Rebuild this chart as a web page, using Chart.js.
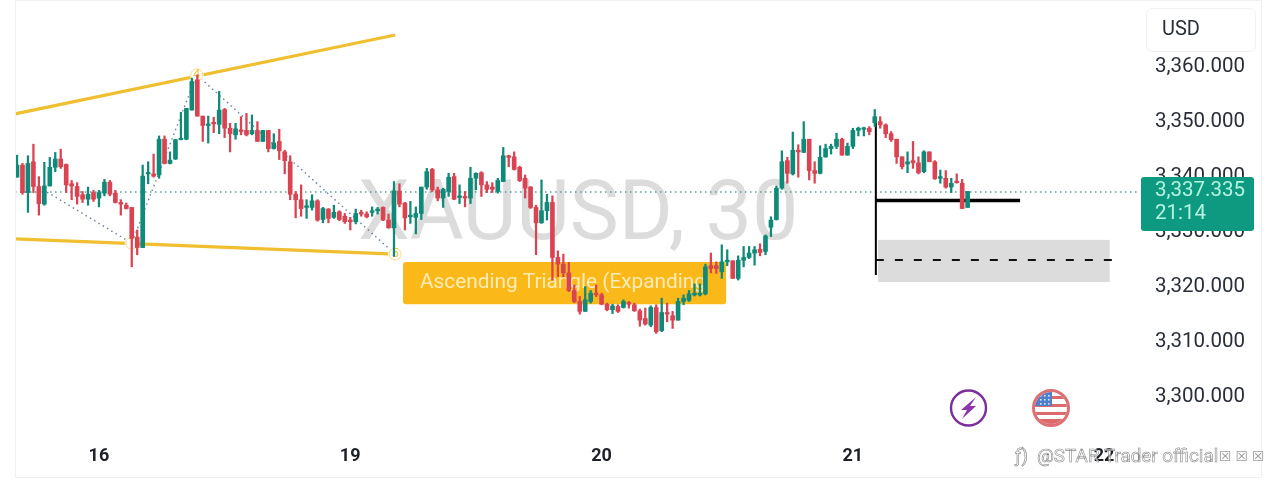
<!DOCTYPE html>
<html><head><meta charset="utf-8">
<style>html,body{margin:0;padding:0;background:#fff;overflow:hidden}canvas{display:block}</style>
<script src="https://cdn.jsdelivr.net/npm/chart.js@4"></script>
</head><body><canvas id="c" width="1280" height="489"></canvas>
<script>
const opens=[3339.6,3341.8,3336.8,3342.4,3337.9,3334.7,3338,3341.4,3342.9,3341.9,
3338.4,3337.9,3336.4,3335.6,3336.8,3335.8,3336.7,3338.7,3336.7,3335,
3334.5,3334.1,3328.7,3326.8,3340.2,3340.2,3340,3346.5,3342.1,3342.9,
3346.4,3346.5,3351.8,3357.3,3350.7,3349,3349.5,3349.2,3351.9,3348.5,
3347.3,3348.2,3348.1,3347.5,3348.1,3346.1,3348.1,3344.8,3346.1,3344.2,
3342.4,3336.5,3335.5,3334.1,3334.1,3335.3,3331.9,3333.8,3332.3,3333.3,
3332.5,3331.8,3331.5,3333.2,3332.9,3333.2,3333.5,3334.1,3331.8,3330.4,
3337.1,3334.9,3332.4,3332.3,3333,3337.8,3341,3337.3,3335.8,3337,
3339.7,3335.9,3336.1,3335.8,3339.4,3340.4,3338.2,3337.8,3337,3338.8,
3343.5,3343.3,3341.4,3339.4,3337.8,3334.1,3331.3,3333.5,3335,3325,
3323.8,3322.2,3319,3317,3315.2,3317,3318.5,3318.2,3316.5,3315.5,
3316.1,3315.9,3316.8,3316.4,3315.3,3313.9,3312.7,3315.9,3311.7,3315,
3314.4,3313.6,3317,3317.2,3318.2,3318.2,3318.4,3323.5,3323.5,3322.4,
3324.2,3324.4,3321.2,3324.5,3325,3325.8,3326.5,3326.1,3330.5,3331.9,
3337.6,3342.6,3340.2,3344.5,3344.1,3346.5,3340.8,3340.3,3343.3,3344.8,
3345.2,3346.5,3343.6,3345.2,3348.1,3348.3,3348.5,3349.5,3349.7,3349.1,
3347.5,3346.5,3343.3,3342,3342.6,3342.2,3340.6,3344.2,3342.4,3339.4,
3339.4,3337.8,3338.8,3338.5,3334.1];
const closes=[3341.8,3336.8,3342.1,3337.9,3334.8,3338,3341.4,3342.9,3341.5,3338.2,
3338,3336.1,3335.6,3336.5,3335.6,3336.8,3338.7,3336.5,3335,3334.7,
3333.9,3328.5,3326.8,3339.8,3340.4,3339.8,3346.5,3342.1,3342.7,3346.4,
3346.6,3352.1,3357,3350.7,3349,3349.2,3349.3,3351.8,3348.5,3347.5,
3348.4,3347.9,3347.3,3348.1,3346.1,3348.1,3344.8,3345.8,3344.4,3342.6,
3336.5,3335.5,3333.9,3334.4,3335.3,3331.8,3333.9,3332.1,3333.2,3331.9,
3331.5,3331.5,3333,3332.9,3332.4,3333.5,3333.8,3331.8,3330.4,3337.1,
3334.7,3332.2,3332.7,3333,3337.8,3340.6,3337.3,3335.8,3337.4,3339.6,
3335.6,3336.2,3335.8,3339.4,3340.3,3338.2,3337.4,3337.4,3339,3343.5,
3343.2,3341,3339,3337.6,3334.1,3331.3,3333.5,3335,3325,3323.8,
3322.2,3319,3317,3315.2,3317.3,3318.5,3318.2,3316.5,3315.5,3316.2,
3315.2,3317,3316.5,3315.3,3313.6,3312.9,3315.9,3311.5,3315,3314.7,
3313.6,3317,3317.6,3318.4,3318.5,3318.5,3323.3,3323,3323,3324.2,
3324.5,3321.2,3324.5,3325,3325.8,3326.4,3325.9,3328.9,3331.8,3337.6,
3342.4,3340.3,3344.5,3344.2,3346.5,3340.8,3340.3,3343.2,3344.8,3345.2,
3346.5,3343.6,3345.2,3348.1,3348.5,3348.5,3347.9,3350.6,3349.1,3347.5,
3346.4,3343.3,3341.5,3342.4,3342.2,3340.4,3344.2,3342.4,3339.3,3339.7,
3337.8,3338.5,3338.6,3333.9,3337];
const highs=[3343.6,3342.1,3343.5,3345.6,3339.7,3342.3,3343.2,3344.1,3344.7,3342,
3339,3338.6,3337,3337.8,3337.2,3337.2,3339.2,3339,3337.2,3335.5,
3334.9,3334.1,3330,3341.8,3342.4,3343.8,3347.1,3347.1,3344.2,3346.5,
3351.4,3352.1,3357.6,3358.2,3350.7,3350.7,3350.5,3355.2,3352.1,3349.4,
3349.4,3350.6,3351.2,3350.9,3349.7,3348.1,3348.1,3347.5,3348.3,3344.5,
3343.5,3337,3338.2,3335.5,3336.4,3335.5,3334.1,3333.9,3334.5,3333.5,
3333,3332.3,3333.8,3333.6,3333.3,3334.2,3334.1,3334.2,3332.9,3338.8,
3338.4,3335,3335.2,3334.2,3337.8,3341.2,3341.2,3337.8,3337.6,3340.3,
3340.3,3338.2,3337,3341.4,3340.4,3340.6,3338.8,3338.6,3339.4,3345,
3343.6,3344.2,3341.6,3340,3337.9,3334.5,3339.1,3336.5,3336.2,3326.2,
3325.6,3324.1,3320,3317.9,3319.7,3319,3320,3318.5,3316.7,3316.5,
3316.4,3317.3,3317,3316.7,3315.6,3315.8,3316.2,3316.4,3317.6,3316.7,
3315.2,3317.6,3318.2,3319,3320.2,3320.2,3323.8,3325.8,3324.2,3327.3,
3326.4,3324.4,3325.3,3327,3327,3327,3327.5,3329.1,3332.4,3338,
3344.4,3343.2,3347.8,3345.5,3349.7,3346.5,3342.4,3345.3,3345.6,3345.6,
3347.6,3346.7,3345.8,3348.5,3348.7,3348.7,3348.8,3351.9,3350.6,3349.3,
3347.9,3346.5,3343.3,3344.2,3346.1,3343.3,3344.4,3344.2,3342.6,3340.9,
3340.8,3339.4,3340.2,3339.2,3337];
const lows=[3339.6,3336.5,3333.2,3336.8,3332.7,3334.5,3338,3340.6,3341.2,3336.8,
3335.5,3334.7,3335,3334.5,3335.2,3334.2,3336.2,3336.2,3334.9,3332.7,
3333.8,3323.3,3325.5,3326.8,3338.4,3339.6,3339.4,3342,3342,3342.8,
3346.4,3346.4,3351.8,3350.7,3346.1,3345.8,3347.7,3347.5,3346.8,3344.2,
3346.5,3347.3,3347.1,3347.3,3346.1,3346.1,3344.2,3344.7,3342.8,3340.2,
3335.5,3332.2,3332.5,3332.1,3333.6,3331.6,3331.3,3331.3,3332.1,3331.7,
3331.2,3330,3331.1,3332.5,3332.2,3332.5,3332.9,3331.7,3330.3,3325.2,
3334.2,3330,3331.2,3329.3,3331.9,3337.4,3337,3335.3,3334.1,3336.1,
3335.5,3334.8,3334.2,3334.8,3337.3,3336.1,3336.8,3336.8,3336.7,3338.8,
3341.5,3340.9,3338.8,3335.8,3333.9,3325.5,3331.2,3331.8,3320.9,3321.5,
3321.5,3318.8,3316.8,3314.7,3315.2,3316.7,3317.9,3316.4,3315.3,3314.8,
3315,3315.8,3315.8,3315.2,3312.5,3312.7,3312.4,3311.2,3311.5,3313.3,
3312.1,3313.6,3316.4,3317,3318,3318,3318.2,3322.2,3322.1,3321.2,
3323.5,3321.2,3320.9,3323.3,3324.8,3323.6,3325.3,3325.5,3328.8,3331.8,
3337.4,3338.5,3340,3339.6,3344.1,3339.1,3338.5,3340.2,3343.2,3343.8,
3344.8,3343.6,3343.6,3344.8,3347.1,3347.1,3347.3,3348.8,3348.5,3346.8,
3346.1,3342.1,3341.1,3340.4,3341.2,3340.2,3340.4,3342.4,3339.2,3338.5,
3337.6,3336.8,3338.5,3333.9,3334.1];

const yTicks=[3300,3310,3320,3330,3340,3350,3360];
const dayTicks=[14.8,60.8,106.8,152.8,198.8];
const dayLabels=['16','19','20','21','22'];
const lastPrice=3336.9;
const lastPriceLabel='3,337.335';
const countdown='21:14';
const watermark='XAUUSD, 30';
const patternName='Ascending Triangle (Expanding';
const upperTrend=[{x:-0.37,y:3351.1},{x:69.2,y:3365.45}];
const lowerTrend=[{x:-0.37,y:3328.4},{x:69.2,y:3325.6}];
const patternPath=[{x:5.5,y:3336.9},{x:21,y:3327.6},{x:32.9,y:3358.2},{x:69.2,y:3325.6}];
const pivots=[{x:21,y:3327.6,t:'1'},{x:32.9,y:3358.2,t:'4'},{x:69.2,y:3325.6,t:'5'}];
const entryV=[{x:157.2,y:3349.45},{x:157.2,y:3321.8}];
const entryH=[{x:157.2,y:3335.35},{x:183.6,y:3335.35}];
const targetDash=[{x:157.2,y:3324.55},{x:200.4,y:3324.55}];
const targetZone={x0:157.6,x1:200,y0:3328.2,y1:3320.55};
const patternBox={x0:70.65,x1:129.8,y0:3324.2,y1:3316.5};
const xMin=-0.37,xMax=205.55,yMin=3292.36,yMax=3371.45;

const RED='#d94352',GREEN='#0f8a78';
const idx=opens.map((_,i)=>i);
const col=i=>closes[i]>=opens[i]?GREEN:RED;

function rr(ctx,x,y,w,h,r){ctx.beginPath();ctx.roundRect(x,y,w,h,r);}

const deco={
 id:'deco',
 beforeDatasetsDraw(chart){
  const {ctx,scales:{x,y}}=chart;
  ctx.save();
  ctx.fillStyle='#dcdcdc';ctx.font='82.5px Roboto';ctx.textAlign='left';ctx.textBaseline='middle';
  ctx.fillText(watermark,358,218);
  ctx.fillStyle='#dcdcdc';
  ctx.fillRect(x.getPixelForValue(targetZone.x0),y.getPixelForValue(targetZone.y0),
    x.getPixelForValue(targetZone.x1)-x.getPixelForValue(targetZone.x0),
    y.getPixelForValue(targetZone.y1)-y.getPixelForValue(targetZone.y0));
  ctx.fillStyle='#fbb919';
  rr(ctx,x.getPixelForValue(patternBox.x0),y.getPixelForValue(patternBox.y0),
    x.getPixelForValue(patternBox.x1)-x.getPixelForValue(patternBox.x0),
    y.getPixelForValue(patternBox.y1)-y.getPixelForValue(patternBox.y0),3);ctx.fill();
  ctx.fillStyle='#fdebb8';ctx.font='20.8px Roboto';ctx.textAlign='left';
  ctx.fillText(patternName,420,283);
  ctx.restore();
 },
 beforeDatasetDraw(chart,args){
  if(args.index!==0)return;
  const {ctx,scales:{x,y}}=chart;
  ctx.save();
  pivots.forEach(p=>{
   const px=x.getPixelForValue(p.x),py=y.getPixelForValue(p.y);
   ctx.fillStyle='#fff';ctx.beginPath();ctx.arc(px,py,7,0,7);ctx.fill();
   ctx.strokeStyle='#f7dc8c';ctx.lineWidth=1;ctx.beginPath();ctx.arc(px,py,6,0,7);ctx.stroke();
   ctx.fillStyle='#f3c53c';ctx.font='13px Roboto';ctx.textAlign='center';ctx.textBaseline='middle';
   ctx.fillText(p.t,px,py);
  });
  ctx.restore();
 },
 afterDraw(chart){
  const {ctx}=chart;
  ctx.save();
  ctx.strokeStyle='#f1f1f1';ctx.lineWidth=1;
  ctx.strokeRect(15.5,0.5,1246,477);
  ctx.fillStyle='#fff';ctx.strokeStyle='#f0f0f0';
  rr(ctx,1146.5,8.5,109,43,6);ctx.fill();ctx.stroke();
  ctx.fillStyle='#2a2e39';ctx.font='20px Roboto';ctx.textAlign='left';ctx.textBaseline='middle';
  ctx.fillText('USD',1162,30);
  ctx.fillStyle='#0e9a80';rr(ctx,1141,177,113,54,3);ctx.fill();
  ctx.fillStyle='#b5f3e0';ctx.font='20.5px Roboto';
  ctx.fillText(lastPriceLabel,1155,191);
  ctx.fillText(countdown,1155,214);
  ctx.strokeStyle='#7a2f9a';ctx.lineWidth=2.4;ctx.beginPath();ctx.arc(968.5,408,17.5,0,7);ctx.stroke();
  ctx.fillStyle='#8e35ad';ctx.beginPath();
  [[976,397],[961,410],[967,410],[962,419],[976,406],[970,406]].forEach((p,i)=>i?ctx.lineTo(p[0],p[1]):ctx.moveTo(p[0],p[1]));
  ctx.closePath();ctx.fill();
  ctx.save();
  ctx.beginPath();ctx.arc(1051,408,16,0,7);ctx.clip();
  ctx.fillStyle='#fff';ctx.fillRect(1034,391,34,34);
  ctx.fillStyle='#dc6a6a';[396,404,412,419].forEach((s,i)=>ctx.fillRect(1034,s,34,[3,3,3,6][i]));
  ctx.fillStyle='#4f7fca';ctx.fillRect(1034,391,18,15);
  ctx.fillStyle='#d8e6f7';
  [395,399,403].forEach(sy=>[1040,1044,1048].forEach(sx=>ctx.fillRect(sx,sy,1.6,1.6)));
  ctx.restore();
  ctx.strokeStyle='#dc7074';ctx.lineWidth=3;ctx.beginPath();ctx.arc(1051,408,17.5,0,7);ctx.stroke();
  ctx.font='18.8px Roboto';ctx.textAlign='left';ctx.textBaseline='middle';
  ctx.strokeStyle='#8e8e8e';ctx.lineWidth=0.7;
  ctx.strokeText('ƒ)',1015,457);
  ctx.fillStyle='rgba(255,255,255,0.6)';
  ctx.fillText('@STAR Trader official',1037,457);
  ctx.strokeStyle='#8a8a8a';ctx.lineWidth=0.6;
  ctx.strokeText('@STAR Trader official',1037,457);
  ctx.font='14px "DejaVu Sans"';ctx.fillStyle='#9a9a9a';ctx.letterSpacing='4px';
  ctx.fillText('☒☒☒',1219,457);
  ctx.restore();
 }
};

const lineDs=(data,color,width,dash,order)=>({type:'line',data,borderColor:color,borderWidth:width,borderDash:dash||[],pointRadius:0,tension:0,order,parsing:false,borderCapStyle:'butt',clip:false});
const noPad=s=>{s.paddingTop=0;s.paddingBottom=0;s.paddingLeft=0;s.paddingRight=0;};

new Chart(document.getElementById('c'),{
 type:'bar',
 data:{datasets:[
  {data:idx.map(i=>({x:i,y:[lows[i],highs[i]]})),backgroundColor:idx.map(col),grouped:false,barThickness:2,maxBarThickness:1.6,order:2},
  {data:idx.map(i=>({x:i,y:[opens[i],closes[i]]})),backgroundColor:idx.map(col),grouped:false,barThickness:4,maxBarThickness:4.8,order:1,minBarLength:1.5},
  lineDs([{x:xMin,y:lastPrice},{x:xMax,y:lastPrice}],'#5b9ea3',1.5,[1.5,3.5],9),
  lineDs(upperTrend,'#efbf30',3.2,null,6),
  lineDs(lowerTrend,'#efbf30',3.2,null,6),
  lineDs(patternPath,'#6b7fa6',1.4,[1.5,3.5],5),
  lineDs(targetDash,'#111',2,[8,11],4),
  lineDs(entryV,'#000',2,null,3),
  lineDs(entryH,'#000',3.5,null,3)
 ]},
 options:{
  responsive:false,animation:false,events:[],
  layout:{padding:{left:15,top:2,right:0,bottom:0}},
  plugins:{legend:{display:false},tooltip:{enabled:false}},
  scales:{
   x:{type:'linear',min:xMin,max:xMax,offset:false,
    grid:{display:false,drawTicks:false},border:{display:false},
    afterBuildTicks:s=>{s.ticks=dayTicks.map(v=>({value:v}));},
    afterFit:s=>{s.height=52;noPad(s);},
    ticks:{autoSkip:false,maxRotation:0,padding:9,labelOffset:1,color:'#1e2028',font:{family:'Roboto',size:18,weight:'bold'},
     callback:v=>dayLabels[dayTicks.indexOf(v)]}},
   y:{type:'linear',position:'right',min:yMin,max:yMax,
    grid:{display:false,drawTicks:false},border:{display:false},
    afterBuildTicks:s=>{s.ticks=yTicks.map(v=>({value:v}));},
    afterFit:s=>{s.width=140;noPad(s);},
    ticks:{autoSkip:false,padding:15,labelOffset:2,color:'#2a2e39',font:{family:'Roboto',size:20.5},
     callback:v=>v.toLocaleString('en-US',{minimumFractionDigits:3,maximumFractionDigits:3})}}
  }
 },
 plugins:[deco]
});
</script></body></html>
